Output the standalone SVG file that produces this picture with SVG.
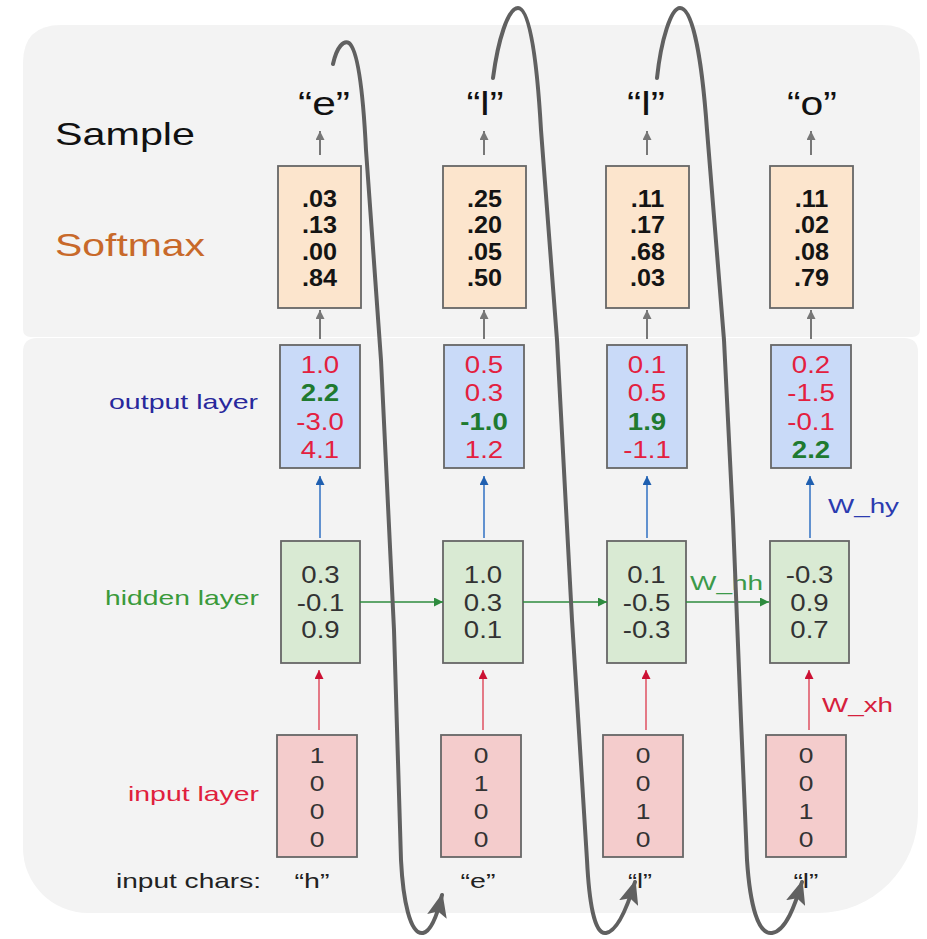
<svg xmlns="http://www.w3.org/2000/svg" width="927" height="939" viewBox="0 0 927 939">
<style>
text{font-family:"Liberation Sans",Arial,sans-serif}
.bg{fill:#f3f3f3}
.box{stroke:#666;stroke-width:1.8}
.sm{fill:#fce5cd}.out{fill:#c9daf8}.hid{fill:#d9ead3}.inp{fill:#f4cccc}
.smt{font-size:24px;font-weight:bold;fill:#141414;text-anchor:middle}
.num{font-size:23px;text-anchor:middle}
.r{fill:#e3203f}.g{fill:#1f7a30;font-weight:bold}
.h{fill:#333}
.in{font-size:22px;fill:#333;text-anchor:middle}
.top{font-size:33px;fill:#111;text-anchor:middle}
.lab{font-size:32px}
.lay{font-size:21px}
.chr{font-size:21px;fill:#222;text-anchor:middle}
.ga{stroke:#777;stroke-width:2;fill:none}
.ba{stroke:#3b78c6;stroke-width:1.6;fill:none}
.ra{stroke:#e05a6a;stroke-width:1.6;fill:none}
.gr{stroke:#2e8b3e;stroke-width:1.6;fill:none}
.loop{stroke:#606060;stroke-width:4;fill:none;stroke-linecap:round}
</style>
<defs>
<marker id="mg" viewBox="0 0 10 10" refX="10" refY="5" markerWidth="9" markerHeight="9" markerUnits="userSpaceOnUse" orient="auto"><path d="M0,0 L10,5 L0,10 z" fill="#777"/></marker>
<marker id="mb" viewBox="0 0 10 10" refX="10" refY="5" markerWidth="11" markerHeight="9" markerUnits="userSpaceOnUse" orient="auto"><path d="M0,0 L10,5 L0,10 z" fill="#1f5fb0"/></marker>
<marker id="mr" viewBox="0 0 10 10" refX="10" refY="5" markerWidth="11" markerHeight="9" markerUnits="userSpaceOnUse" orient="auto"><path d="M0,0 L10,5 L0,10 z" fill="#cc1133"/></marker>
<marker id="mgr" viewBox="0 0 10 10" refX="10" refY="5" markerWidth="12" markerHeight="9" markerUnits="userSpaceOnUse" orient="auto"><path d="M0,0 L10,5 L0,10 z" fill="#2e8b3e"/></marker>
<marker id="mbig" viewBox="0 0 24 20" refX="22" refY="10" markerWidth="24" markerHeight="20" markerUnits="userSpaceOnUse" orient="auto"><path d="M0,0 L24,10 L0,20 L5,10 z" fill="#606060"/></marker>
</defs>

<g id="background">
<path class="bg" d="M23 329 L23 63 Q23 25 61 25 L882 25 Q920 25 920 63 L920 329 Q920 337 912 337 L31 337 Q23 337 23 329 Z"/>
<path class="bg" d="M23 352 Q23 338 37 338 L904 338 Q918 338 918 352 L918 813 A100 100 0 0 1 818 913 L88 913 A65 65 0 0 1 23 848 Z"/>
</g>

<g id="row-labels">
<text class="lab" x="55" y="145" fill="#111" textLength="140" lengthAdjust="spacingAndGlyphs">Sample</text>
<text class="lab" x="55" y="256" fill="#c8692a" textLength="150" lengthAdjust="spacingAndGlyphs">Softmax</text>
<text class="lay" x="109" y="409" fill="#28289c" textLength="149" lengthAdjust="spacingAndGlyphs">output layer</text>
<text class="lay" x="105" y="605" fill="#3a9a3a" textLength="154" lengthAdjust="spacingAndGlyphs">hidden layer</text>
<text class="lay" x="128" y="801" fill="#e0203c" textLength="131" lengthAdjust="spacingAndGlyphs">input layer</text>
<text class="lay" x="116" y="888" fill="#222" textLength="145" lengthAdjust="spacingAndGlyphs">input chars:</text>
</g>

<g id="samples">
<text class="top" x="324" y="115" textLength="52" lengthAdjust="spacingAndGlyphs">“e”</text>
<text class="top" x="485" y="115" textLength="37" lengthAdjust="spacingAndGlyphs">“l”</text>
<text class="top" x="646" y="115" textLength="38" lengthAdjust="spacingAndGlyphs">“l”</text>
<text class="top" x="812" y="115" textLength="50" lengthAdjust="spacingAndGlyphs">“o”</text>
</g>

<g id="softmax-1"><rect class="box sm" x="278" y="166" width="83" height="142"/>
<g transform="translate(319.5 0) scale(1.05 1)"><text class="smt" x="0" y="207">.03</text><text class="smt" x="0" y="233">.13</text><text class="smt" x="0" y="260">.00</text><text class="smt" x="0" y="286">.84</text></g></g>
<g id="softmax-2"><rect class="box sm" x="443" y="166" width="83" height="142"/>
<g transform="translate(484.5 0) scale(1.05 1)"><text class="smt" x="0" y="207">.25</text><text class="smt" x="0" y="233">.20</text><text class="smt" x="0" y="260">.05</text><text class="smt" x="0" y="286">.50</text></g></g>
<g id="softmax-3"><rect class="box sm" x="606" y="166" width="83" height="142"/>
<g transform="translate(647.5 0) scale(1.05 1)"><text class="smt" x="0" y="207">.11</text><text class="smt" x="0" y="233">.17</text><text class="smt" x="0" y="260">.68</text><text class="smt" x="0" y="286">.03</text></g></g>
<g id="softmax-4"><rect class="box sm" x="770" y="166" width="83" height="142"/>
<g transform="translate(811.5 0) scale(1.05 1)"><text class="smt" x="0" y="207">.11</text><text class="smt" x="0" y="233">.02</text><text class="smt" x="0" y="260">.08</text><text class="smt" x="0" y="286">.79</text></g></g>

<g id="output-1"><rect class="box out" x="280" y="345" width="80" height="123"/>
<g transform="translate(320 0) scale(1.2 1)"><text class="num r" x="0" y="373">1.0</text><text class="num g" x="0" y="401.5">2.2</text><text class="num r" x="0" y="430">-3.0</text><text class="num r" x="0" y="458">4.1</text></g></g>
<g id="output-2"><rect class="box out" x="444" y="345" width="80" height="123"/>
<g transform="translate(484 0) scale(1.2 1)"><text class="num r" x="0" y="373">0.5</text><text class="num r" x="0" y="401.5">0.3</text><text class="num g" x="0" y="430">-1.0</text><text class="num r" x="0" y="458">1.2</text></g></g>
<g id="output-3"><rect class="box out" x="607" y="345" width="80" height="123"/>
<g transform="translate(647 0) scale(1.2 1)"><text class="num r" x="0" y="373">0.1</text><text class="num r" x="0" y="401.5">0.5</text><text class="num g" x="0" y="430">1.9</text><text class="num r" x="0" y="458">-1.1</text></g></g>
<g id="output-4"><rect class="box out" x="771" y="345" width="80" height="123"/>
<g transform="translate(811 0) scale(1.2 1)"><text class="num r" x="0" y="373">0.2</text><text class="num r" x="0" y="401.5">-1.5</text><text class="num r" x="0" y="430">-0.1</text><text class="num g" x="0" y="458">2.2</text></g></g>

<g id="hidden-1"><rect class="box hid" x="281" y="541" width="79" height="122"/>
<g transform="translate(320.5 0) scale(1.2 1)"><text class="num h" x="0" y="583">0.3</text><text class="num h" x="0" y="611">-0.1</text><text class="num h" x="0" y="638">0.9</text></g></g>
<g id="hidden-2"><rect class="box hid" x="443" y="541" width="80" height="122"/>
<g transform="translate(483 0) scale(1.2 1)"><text class="num h" x="0" y="583">1.0</text><text class="num h" x="0" y="611">0.3</text><text class="num h" x="0" y="638">0.1</text></g></g>
<g id="hidden-3"><rect class="box hid" x="607" y="541" width="79" height="122"/>
<g transform="translate(646.5 0) scale(1.2 1)"><text class="num h" x="0" y="583">0.1</text><text class="num h" x="0" y="611">-0.5</text><text class="num h" x="0" y="638">-0.3</text></g></g>
<g id="hidden-4"><rect class="box hid" x="770" y="541" width="79" height="122"/>
<g transform="translate(809.5 0) scale(1.2 1)"><text class="num h" x="0" y="583">-0.3</text><text class="num h" x="0" y="611">0.9</text><text class="num h" x="0" y="638">0.7</text></g></g>

<g id="input-1"><rect class="box inp" x="277" y="735" width="80" height="122"/>
<g transform="translate(317 0) scale(1.2 1)"><text class="in" x="0" y="763">1</text><text class="in" x="0" y="791">0</text><text class="in" x="0" y="819">0</text><text class="in" x="0" y="847">0</text></g></g>
<g id="input-2"><rect class="box inp" x="441" y="735" width="80" height="122"/>
<g transform="translate(481 0) scale(1.2 1)"><text class="in" x="0" y="763">0</text><text class="in" x="0" y="791">1</text><text class="in" x="0" y="819">0</text><text class="in" x="0" y="847">0</text></g></g>
<g id="input-3"><rect class="box inp" x="603" y="735" width="80" height="122"/>
<g transform="translate(643 0) scale(1.2 1)"><text class="in" x="0" y="763">0</text><text class="in" x="0" y="791">0</text><text class="in" x="0" y="819">1</text><text class="in" x="0" y="847">0</text></g></g>
<g id="input-4"><rect class="box inp" x="766" y="735" width="80" height="122"/>
<g transform="translate(806 0) scale(1.2 1)"><text class="in" x="0" y="763">0</text><text class="in" x="0" y="791">0</text><text class="in" x="0" y="819">1</text><text class="in" x="0" y="847">0</text></g></g>

<g id="input-chars">
<text class="chr" x="312" y="888" textLength="35" lengthAdjust="spacingAndGlyphs">“h”</text>
<text class="chr" x="478" y="888" textLength="35" lengthAdjust="spacingAndGlyphs">“e”</text>
<text class="chr" x="640" y="888" textLength="24" lengthAdjust="spacingAndGlyphs">“l”</text>
<text class="chr" x="806" y="888" textLength="25" lengthAdjust="spacingAndGlyphs">“l”</text>
</g>

<g id="weight-labels">
<text class="lay" x="828" y="513" fill="#2b3bb0" textLength="71" lengthAdjust="spacingAndGlyphs">W_hy</text>
<text class="lay" x="690" y="590" fill="#3b9a4a" font-size="22" textLength="73" lengthAdjust="spacingAndGlyphs">W_hh</text>
<text class="lay" x="822" y="712" fill="#d6203c" textLength="71" lengthAdjust="spacingAndGlyphs">W_xh</text>
</g>

<g id="connectors">
<line class="ga" x1="320" y1="155" x2="320" y2="131" marker-end="url(#mg)"/>
<line class="ga" x1="484" y1="155" x2="484" y2="131" marker-end="url(#mg)"/>
<line class="ga" x1="647" y1="155" x2="647" y2="131" marker-end="url(#mg)"/>
<line class="ga" x1="811" y1="155" x2="811" y2="131" marker-end="url(#mg)"/>
<line class="ga" x1="320" y1="339" x2="320" y2="310" marker-end="url(#mg)"/>
<line class="ga" x1="484" y1="339" x2="484" y2="310" marker-end="url(#mg)"/>
<line class="ga" x1="647" y1="339" x2="647" y2="310" marker-end="url(#mg)"/>
<line class="ga" x1="811" y1="339" x2="811" y2="310" marker-end="url(#mg)"/>
<line class="ba" x1="320" y1="538" x2="320" y2="476" marker-end="url(#mb)"/>
<line class="ba" x1="484" y1="538" x2="484" y2="476" marker-end="url(#mb)"/>
<line class="ba" x1="647" y1="538" x2="647" y2="476" marker-end="url(#mb)"/>
<line class="ba" x1="810" y1="538" x2="810" y2="476" marker-end="url(#mb)"/>
<line class="ra" x1="319" y1="730" x2="319" y2="670" stroke="#b5122e" stroke-width="2.6" marker-end="url(#mr)"/>
<line class="ra" x1="483" y1="730" x2="483" y2="670" marker-end="url(#mr)"/>
<line class="ra" x1="646" y1="730" x2="646" y2="670" marker-end="url(#mr)"/>
<line class="ra" x1="809" y1="730" x2="809" y2="670" marker-end="url(#mr)"/>
<line class="gr" x1="360" y1="602" x2="443" y2="602" marker-end="url(#mgr)"/>
<line class="gr" x1="523" y1="602" x2="607" y2="602" marker-end="url(#mgr)"/>
<line class="gr" x1="686" y1="602" x2="769" y2="602" marker-end="url(#mgr)"/>
<path class="loop" d="M333 64 C337 46 344 40 349 43 C358 50 363 90 366 150 L381 360 L394 630 L401 860 C403 900 410 935 423 933 C432 931 438 912 442 895" marker-end="url(#mbig)"/>
<path class="loop" d="M493 78 C498 40 508 8 518 8 C530 8 537 60 541 130 L557 340 L572 620 L587 860 C589 900 594 935 606 933 C618 931 628 905 635 882" marker-end="url(#mbig)"/>
<path class="loop" d="M657 78 C661 40 671 8 680 8 C693 8 702 60 707 130 L724 340 L733 520 L741 720 L747 860 C750 905 758 935 772 933 C786 931 795 905 802 882" marker-end="url(#mbig)"/>
</g>
</svg>
